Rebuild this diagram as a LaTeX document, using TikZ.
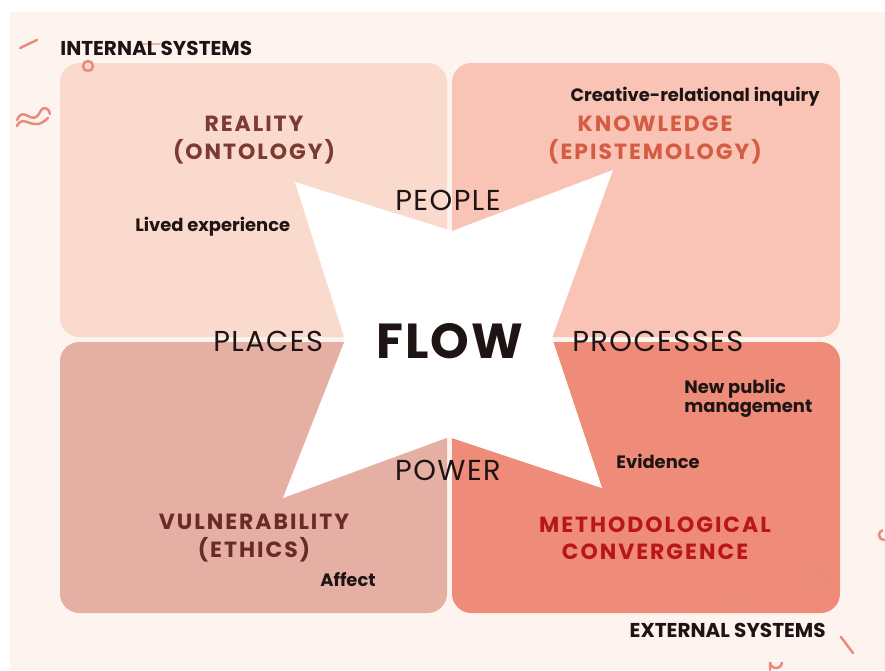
\documentclass[tikz,border=0pt]{standalone}
\usepackage{fontspec}
\setmainfont{Poppins}
\newfontfamily\headfont[LetterSpace=9]{Poppins}
\usetikzlibrary{positioning}

\definecolor{paper}{HTML}{FDF4EF}
\definecolor{realityfill}{HTML}{F9DACD}
\definecolor{knowfill}{HTML}{F9C4B5}
\definecolor{vulnfill}{HTML}{E5AFA3}
\definecolor{methodfill}{HTML}{EF8B79}
\definecolor{realitytext}{HTML}{7B3A33}
\definecolor{knowtext}{HTML}{D65B43}
\definecolor{vulntext}{HTML}{6A2B27}
\definecolor{methodtext}{HTML}{B8161A}
\definecolor{squiggle}{HTML}{EB8A78}
\definecolor{ink}{HTML}{1E1414}

\tikzset{
  quadrant/.style={rounded corners=11pt},
  heading/.style={font=\headfont\bfseries\fontsize{12.5}{15.5}\selectfont, align=center, inner sep=0pt},
  note/.style={font=\bfseries\fontsize{10.2}{11}\selectfont, text=ink, align=left, inner sep=0pt},
  pole/.style={font=\fontsize{16.4}{18}\selectfont\addfontfeatures{LetterSpace=5}, text=ink, inner sep=0pt},
  system/.style={font=\bfseries\fontsize{11.4}{13}\selectfont, text=ink, inner sep=0pt},
  deco/.style={draw=squiggle, line width=1.4pt, line cap=round}
}

\begin{document}
\begin{tikzpicture}[x=0.02cm, y=-0.02cm]
  % Page and paper
  \fill[white] (0,0) rectangle (885,670);
  \fill[paper] (10,12) rectangle (885,670);
  \useasboundingbox (0,0) rectangle (885,670);

  % Four quadrants
  \fill[quadrant, realityfill] (60,63) rectangle (447,337);
  \fill[quadrant, knowfill] (452,63) rectangle (840,337);
  \fill[quadrant, vulnfill] (60,342) rectangle (447,613);
  \fill[quadrant, methodfill] (452,342) rectangle (840,613);

  % Star in the middle
  \fill[white] (295,182) -- (452,231) -- (613,170) -- (552,338)
    -- (602,488) -- (449,437) -- (283,498) -- (345,340) -- cycle;

  % Decorations
  \draw[deco] (20,48) -- (37,40);
  \draw[deco] (88,66) circle (5);
  \draw[deco, line width=0.8pt, opacity=0.6] (143,44) -- (160,44);
  \draw[deco] (17,120) .. controls (24,104) and (32,128) .. (40,112)
    .. controls (44,104) and (50,110) .. (50,114);
  \draw[deco] (17,126) .. controls (24,112) and (32,134) .. (48,118);
  \draw[deco, line width=1pt, rotate around={30:(822,578)}] (816,572) rectangle (828,584);
  \draw[deco] (733,607) -- (749,607);
  \draw[deco] (841,637) -- (853,653);
  \draw[deco] (884,540) arc (90:250:5);
  \draw[deco] (770,670) -- (770,662) arc (180:0:6) -- (782,664);

  % System labels
  \node[system, anchor=west] (internal) at (60,48) {INTERNAL SYSTEMS};
  \node[system, anchor=east] (external) at (826,630) {EXTERNAL SYSTEMS};

  % Quadrant headings
  \node[heading, text=realitytext] (reality) at (254,140) {REALITY\\(ONTOLOGY)};
  \node[heading, text=knowtext] (knowledge) at (655,140) {KNOWLEDGE\\(EPISTEMOLOGY)};
  \node[heading, text=vulntext] (vulnerability) at (254,538) {VULNERABILITY\\(ETHICS)};
  \node[heading, text=methodtext] (method) at (655,538) {METHODOLOGICAL\\CONVERGENCE};

  % Notes in the quadrants
  \node[note, anchor=east] (creative) at (820,97) {Creative-relational inquiry};
  \node[note, anchor=west] (lived) at (135,227) {Lived experience};
  \node[note, anchor=west] (npm) at (684,398) {New public\\management};
  \node[note, anchor=west] (evidence) at (616,461) {Evidence};
  \node[note, anchor=west] (affect) at (320,580) {Affect};

  % Centre and the four poles
  \node[font=\bfseries\fontsize{28}{32}\selectfont\addfontfeatures{LetterSpace=4}, text=ink] (flow) at (450,341) {FLOW};
  \node[pole] (people) at (448,200) {PEOPLE};
  \node[pole] (power) at (448,470) {POWER};
  \node[pole, anchor=west] (places) at (213,341) {PLACES};
  \node[pole, anchor=west] (processes) at (572,341) {PROCESSES};
\end{tikzpicture}
\end{document}
